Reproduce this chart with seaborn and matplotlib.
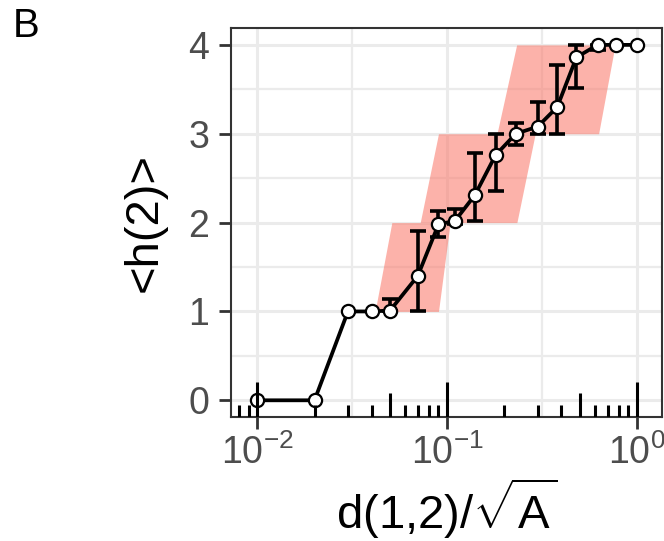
import numpy as np
import pandas as pd
import matplotlib
matplotlib.use('Agg')
import matplotlib.pyplot as plt
import matplotlib.ticker as mticker
import seaborn as sns

# ----------------------------------------------------------------------
# Data
# ----------------------------------------------------------------------
d_scaled = [0.01, 0.02, 0.03, 0.04, 0.05, 0.07, 0.09, 0.11, 0.14, 0.18,
            0.23, 0.30, 0.38, 0.48, 0.62, 0.78, 1.0]
h_mean = [0, 0, 1, 1, 1.01, 1.40, 1.98, 2.02, 2.31, 2.76,
          3.0, 3.08, 3.30, 3.86, 4.0, 4.0, 4.0]

# error bars (only where visible)
err_d = [0.05, 0.07, 0.09, 0.11, 0.14, 0.18, 0.23, 0.30, 0.38, 0.48, 0.62]
err_lo = [1.0, 1.0, 1.84, 1.98, 2.02, 2.35, 2.87, 3.0, 3.0, 3.51, 3.94]
err_hi = [1.14, 1.90, 2.13, 2.15, 2.78, 3.0, 3.12, 3.36, 3.77, 4.0, 4.0]

# shaded bands: level h -> h+1, left/right edge at bottom and top
band_h = [1, 2, 3]
band_left_bot = [0.0417, 0.0721, 0.183]
band_left_top = [0.0511, 0.090, 0.2323]
band_right_bot = [0.090, 0.233, 0.628]
band_right_top = [0.1037, 0.291, 0.767]

y_ticks = [0, 1, 2, 3, 4]
x_ticks = [0.01, 0.1, 1.0]

df = pd.DataFrame({'d': d_scaled, 'h': h_mean})
err = pd.DataFrame({'d': err_d, 'lo': err_lo, 'hi': err_hi})

# ----------------------------------------------------------------------
# Style
# ----------------------------------------------------------------------
sns.set_theme(style='whitegrid')
plt.rcParams['font.family'] = ['Liberation Sans', 'DejaVu Sans']
plt.rcParams['mathtext.fontset'] = 'custom'
plt.rcParams['mathtext.rm'] = 'Liberation Sans'
plt.rcParams['mathtext.it'] = 'Liberation Sans:italic'
plt.rcParams['mathtext.bf'] = 'Liberation Sans:bold'

fig = plt.figure(figsize=(6.64, 5.41), dpi=100)
ax = fig.add_axes([231 / 664, 1 - 417 / 541, 431 / 664, 389 / 541])
ax.set_facecolor('white')

# bands
for h, lb, lt, rb, rt in zip(band_h, band_left_bot, band_left_top,
                             band_right_bot, band_right_top):
    ax.fill_betweenx([h, h + 1], [lb, lt], [rb, rt], color='#FA8072',
                     alpha=0.6, lw=0, zorder=1)

# error bars
ax.errorbar(err['d'], (err['lo'] + err['hi']) / 2, yerr=(err['hi'] - err['lo']) / 2,
            fmt='none', ecolor='black', elinewidth=2.6, capsize=5.5, capthick=2.6,
            zorder=2)

# line + points
sns.lineplot(data=df, x='d', y='h', ax=ax, color='black', linewidth=2.7,
             marker='o', markersize=9.5, markerfacecolor='white',
             markeredgecolor='black', markeredgewidth=1.6, zorder=3)

ax.set_xscale('log')
ax.set_xlim(10 ** -2.139, 10 ** 0.132)
ax.set_ylim(-0.188, 4.19)

# log ticks inside the panel (annotation_logticks style)
xt = ax.get_xaxis_transform()
for dec in [-3, -2, -1, 0]:
    for m in range(1, 10):
        v = m * 10.0 ** dec
        if not (10 ** -2.139 < v < 10 ** 0.132):
            continue
        ln = 0.090 if m == 1 else (0.062 if m == 5 else 0.031)
        ax.vlines(v, 0, ln, transform=xt, color='black', lw=2.2, zorder=4)

# ticks & grid
ax.xaxis.set_major_locator(mticker.FixedLocator(x_ticks))
ax.xaxis.set_major_formatter(mticker.LogFormatterSciNotation())
ax.xaxis.set_minor_locator(mticker.FixedLocator([10 ** -1.5, 10 ** -0.5]))
ax.yaxis.set_major_locator(mticker.FixedLocator(y_ticks))
ax.yaxis.set_minor_locator(mticker.FixedLocator([0.5, 1.5, 2.5, 3.5]))

ax.grid(which='major', color='#EBEBEB', lw=2.2)
ax.grid(which='minor', color='#EBEBEB', lw=1.6)
ax.set_axisbelow(True)

ax.tick_params(axis='both', which='major', direction='out', length=8.5, width=2.0,
               color='#333333', labelsize=27, labelcolor='#4D4D4D')
ax.tick_params(axis='y', which='major', pad=7)
ax.tick_params(axis='x', which='major', pad=4)
ax.tick_params(which='minor', length=0)
ax.tick_params(axis='both', which='both', bottom=True, left=True, top=False, right=False)

for s in ax.spines.values():
    s.set_visible(True)
    s.set_color('#333333')
    s.set_linewidth(1.5)

ax.set_xlabel(r'd(1,2)/$\sqrt{\mathrm{A}}$', fontsize=34, color='black', va='center')
ax.set_ylabel('<h(2)>', fontsize=34, color='black', va='center')
ax.xaxis.set_label_coords(0.5, -0.236)
ax.yaxis.set_label_coords(-0.1995, 0.5)

fig.text(13 / 664, 1 - 7 / 541, 'B', fontsize=29, color='black', ha='left', va='top')

fig.savefig('out.png', dpi=100)
